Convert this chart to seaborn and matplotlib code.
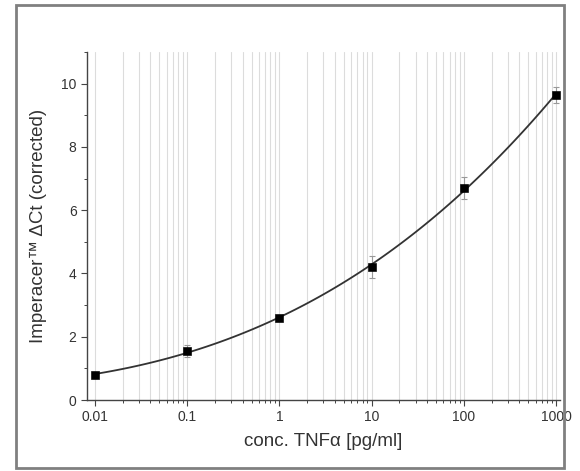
import matplotlib
matplotlib.use("Agg")
import matplotlib.pyplot as plt
import seaborn as sns
import pandas as pd
import numpy as np
from matplotlib.patches import Rectangle
from matplotlib.ticker import FixedLocator

conc = [0.01, 0.1, 1, 10, 100, 1000]
delta_ct = [0.8, 1.55, 2.6, 4.2, 6.7, 9.65]
err = [0.1, 0.2, 0.1, 0.35, 0.35, 0.25]
x_ticks = [0.01, 0.1, 1, 10, 100, 1000]
x_tick_labels = ["0.01", "0.1", "1", "10", "100", "1000"]
y_ticks = [0, 2, 4, 6, 8, 10]

sns.set_theme(style="white")
plt.rcParams['font.family'] = ['Liberation Sans', 'DejaVu Sans']

df = pd.DataFrame({"conc": conc, "dct": delta_ct, "err": err})
df["logc"] = np.log10(df["conc"])

fig = plt.figure(figsize=(5.8, 4.71), dpi=100)
ax = fig.add_axes([87/580, 1-400/471, (560-87)/580, (400-52)/471])

lo, hi = np.log10(0.0082), np.log10(1105)
ax.set_xlim(lo, hi)
ax.set_ylim(0, 11)

# major + minor log positions
major_pos = np.log10(x_ticks)
minor_pos = [np.log10(k * t) for t in x_ticks[:-1] for k in range(2, 10)]

ax.errorbar(df["logc"], df["dct"], yerr=df["err"], fmt="none", ecolor="#999999",
            elinewidth=0.8, capsize=2.5, capthick=0.8, zorder=3)
sns.regplot(data=df, x="logc", y="dct", ax=ax, order=3, ci=None, scatter=False,
            truncate=True, line_kws=dict(color="#333333", linewidth=1.3, zorder=4))
sns.scatterplot(data=df, x="logc", y="dct", ax=ax, marker="s", s=30, color="black",
                edgecolor="black", zorder=5)

ax.xaxis.set_major_locator(FixedLocator(major_pos))
ax.set_xticklabels(x_tick_labels)
ax.xaxis.set_minor_locator(FixedLocator(minor_pos))
ax.set_yticks(y_ticks)
ax.set_yticks([1, 3, 5, 7, 9, 11], minor=True)
ax.set_xlim(lo, hi)

ax.grid(True, which="both", axis="x", color="#dcdcdc", linewidth=0.8)
ax.grid(False, axis="y")
ax.set_axisbelow(True)

for s in ["top", "right"]:
    ax.spines[s].set_visible(False)
for s in ["left", "bottom"]:
    ax.spines[s].set_color("#444444")
    ax.spines[s].set_linewidth(1.0)

ax.tick_params(axis="both", which="major", direction="out", length=4, width=0.8,
               color="#444444", labelsize=10, labelcolor="#333333", left=True, bottom=True)
ax.tick_params(axis="both", which="minor", direction="out", length=2.5, width=0.7,
               color="#444444", left=True, bottom=True)

ax.set_xlabel("conc. TNF\u03b1 [pg/ml]", fontsize=13.5, color="#333333", labelpad=6)
ax.set_ylabel("Imperacer\u2122 \u0394Ct (corrected)", fontsize=13.5, color="#333333", labelpad=10)

fig.patches.append(Rectangle((16/580, 1-468/471), (564-16)/580, (468-5)/471,
                             transform=fig.transFigure, fill=False,
                             edgecolor="#808080", linewidth=2))

fig.savefig("out.png", dpi=100)
